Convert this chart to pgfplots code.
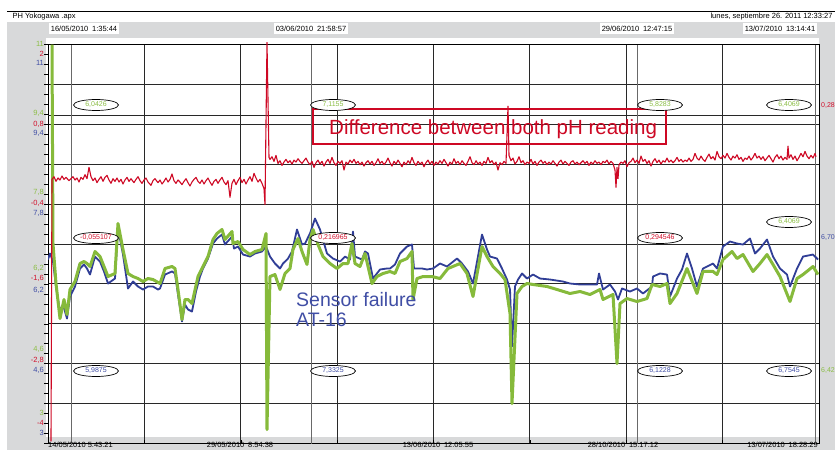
\documentclass[border=0pt]{standalone}
\usepackage{pgfplots}
\pgfplotsset{compat=1.18}
\usepackage{fontspec}
\setmainfont{Liberation Sans}
\definecolor{bgg}{RGB}{216,217,218}
\definecolor{gser}{RGB}{134,186,59}
\definecolor{bser}{RGB}{48,62,150}
\definecolor{rser}{RGB}{206,8,36}
\definecolor{glab}{RGB}{140,190,70}
\definecolor{blab}{RGB}{64,78,165}
\definecolor{rlab}{RGB}{210,16,44}
\definecolor{gridc}{RGB}{40,40,40}
\definecolor{curc}{RGB}{105,105,105}
\newcommand{\sm}{\fontsize{7.5}{9}\selectfont}
\tikzset{ell/.style={draw=black,line width=0.7pt,fill=white,ellipse,minimum width=45pt,minimum height=11pt,inner sep=0pt,font=\fontsize{7}{8}\selectfont},
 datebox/.style={fill=white,inner sep=1.5pt,minimum height=11pt,font=\sm}}
\usetikzlibrary{shapes.geometric}
\begin{document}
\begin{tikzpicture}[x=1pt,y=1pt]
\useasboundingbox (0,0) rectangle (835,450);
\clip (0,0) rectangle (835,450);
\fill[white] (0,0) rectangle (835,450);
\fill[bgg] (7,0) rectangle (835,428);
\draw[black,line width=0.8pt] (7,439) -- (835,439);
\node[anchor=base west,font=\sm] at (9,431) {PH Yokogawa .apx};
\node[anchor=base east,font=\sm] at (836,431) {lunes, septiembre 26. 2011 12:33:27};
\fill[white] (46,13) rectangle (819,412);
\begin{axis}[at={(48,13)},anchor=south west,scale only axis,width=771pt,height=399pt,
 xmin=0,xmax=771,ymin=3,ymax=11,
 xtick={0,96.4,192.8,289.1,385.5,481.9,578.3,674.6,771},
 ytick={3,3.8,4.6,5.4,6.2,7,7.8,8.6,9.4,10.2,11},
 minor x tick num=3, minor y tick num=3,
 xticklabels={}, yticklabels={},
 xtick pos=bottom, ytick pos=left, xtick align=inside, ytick align=outside,
 major tick length=4pt, minor tick length=4pt,
 tick style={black,line width=0.6pt},
 grid=major, major grid style={draw=gridc,line width=0.9pt},
 axis line style={black,line width=0.9pt},
 clip=true]
\draw[gridc,line width=0.9pt] (axis cs:0,9.576) -- (axis cs:771,9.576);
\draw[curc,line width=1pt] (axis cs:23,3) -- (axis cs:23,11);
\draw[curc,line width=1pt] (axis cs:263,3) -- (axis cs:263,11);
\draw[curc,line width=1pt] (axis cs:589,3) -- (axis cs:589,11);
\draw[curc,line width=1pt] (axis cs:767,3) -- (axis cs:767,11);
% blue series
\addplot[bser,line width=1.8pt,line join=round,mark=none] coordinates {
(0,6.689)(2,6.810)(5,6.649)(8,6.148)(12,5.647)(15,5.787)(19,5.506)(22,5.947)(27,6.148)(32,6.509)(36,6.589)(39,6.509)(42,6.388)(47,6.749)(52,6.649)(56,6.449)(60,6.208)(67,6.308)(70,7.311)(75,6.789)(80,6.108)(85,6.248)(90,6.148)(95,6.088)(100,6.148)(105,6.148)(110,6.088)(112,6.108)(117,6.388)(124,6.449)(127,6.409)(130,5.987)(134,5.446)(137,5.787)(140,5.687)(144,5.647)(148,6.048)(152,6.348)(155,6.509)(160,6.709)(165,7.010)(169,7.110)(174,7.190)(177,6.990)(184,7.150)(186,6.910)(190,6.950)(195,6.789)(202,6.749)(207,6.810)(214,6.850)(218,6.950)(222,6.749)(227,6.609)(232,6.509)(235,6.609)(240,6.709)(244,6.850)(249,7.291)(254,6.990)(257,7.010)(262,7.211)(267,7.511)(272,7.291)(279,6.810)(285,6.709)(292,6.649)(297,6.749)(302,6.689)(305,7.251)(307,6.749)(314,6.689)(317,6.850)(320,6.810)(325,6.308)(332,6.489)(339,6.509)(342,6.509)(347,6.589)(352,6.810)(359,6.950)(364,6.990)(366,6.509)(369,6.509)(374,6.509)(379,6.489)(385,6.509)(392,6.609)(399,6.549)(409,6.709)(414,6.609)(420,6.449)(425,6.208)(434,7.190)(439,6.890)(442,6.749)(449,6.709)(454,6.509)(459,6.288)(462,6.088)(464,4.945)(467,6.148)(470,6.288)(474,6.409)(479,6.308)(485,6.388)(492,6.308)(502,6.288)(515,6.248)(522,6.208)(532,6.188)(542,6.188)(549,6.188)(551,6.409)(555,6.088)(562,6.188)(567,6.048)(570,5.887)(574,6.108)(582,6.048)(589,6.108)(595,6.008)(604,6.148)(605,6.348)(612,6.409)(619,6.388)(622,5.947)(629,6.308)(634,6.489)(639,6.810)(644,6.509)(649,6.148)(655,6.509)(665,6.609)(669,6.509)(675,6.950)(682,7.050)(689,7.010)(695,6.990)(702,7.110)(707,6.810)(712,6.910)(719,7.090)(725,6.749)(732,6.509)(739,6.388)(742,6.148)(749,6.509)(755,6.749)(765,6.789)(770,6.689)};
% green series
\addplot[gser,line width=3pt,line join=round,mark=none] coordinates {
(4,11.0)(5,7.010)(8,6.208)(12,5.506)(16,5.887)(19,5.586)(22,6.088)(27,6.248)(32,6.609)(36,6.649)(39,6.609)(42,6.549)(47,6.850)(52,6.749)(56,6.549)(60,6.348)(67,6.409)(70,7.411)(75,6.890)(80,6.409)(85,6.348)(90,6.308)(95,6.248)(100,6.308)(105,6.288)(112,6.208)(117,6.509)(124,6.549)(127,6.509)(130,6.088)(134,5.486)(137,5.887)(140,5.887)(144,5.807)(150,6.348)(155,6.549)(160,6.749)(165,7.090)(169,7.211)(174,7.291)(177,7.090)(184,7.251)(185,7.010)(190,7.050)(195,6.890)(202,6.789)(207,6.850)(214,6.890)(218,7.211)(219,3.281)(222,6.348)(227,6.388)(232,6.088)(237,6.409)(242,6.509)(245,6.890)(250,7.110)(254,6.850)(259,6.589)(262,7.090)(265,7.291)(270,6.990)(275,6.749)(282,6.609)(289,6.509)(295,6.609)(300,6.609)(304,7.010)(307,6.609)(312,6.549)(317,6.810)(324,6.208)(329,6.348)(335,6.409)(342,6.449)(347,6.409)(352,6.649)(359,6.709)(364,6.850)(365,5.887)(369,6.308)(375,6.348)(384,6.348)(392,6.308)(400,6.509)(412,6.609)(419,6.409)(425,5.947)(434,6.950)(439,6.749)(445,6.549)(452,6.409)(457,6.288)(462,5.607)(464,3.802)(469,6.008)(474,6.148)(479,6.208)(485,6.188)(499,6.148)(509,6.088)(522,6.008)(532,6.048)(542,5.987)(552,6.088)(555,5.887)(565,5.987)(569,4.604)(572,5.807)(579,5.907)(589,5.847)(599,5.907)(604,6.188)(612,6.148)(619,6.208)(622,5.807)(629,6.008)(639,6.509)(649,6.008)(655,6.449)(665,6.449)(669,6.388)(675,6.689)(684,6.850)(689,6.709)(695,6.789)(705,6.449)(712,6.609)(719,6.789)(725,6.589)(732,6.348)(742,5.847)(749,6.308)(755,6.388)(765,6.549)(770,6.388)};
\end{axis}
\begin{axis}[at={(48,13)},anchor=south west,scale only axis,width=771pt,height=399pt,
 xmin=0,xmax=771,ymin=-4,ymax=2,hide axis,clip=true]
\addplot[rser,line width=1.1pt,line join=round,mark=none] coordinates {
(3,-4.0)(4,-0.06)(6,-0.02)(8,-0.09)(10,-0.04)(12,-0.07)(14,-0.01)(16,-0.06)(18,-0.03)(21,-0.08)(23,-0.05)(25,-0.02)(27,-0.07)(29,-0.04)(31,-0.10)(33,-0.03)(35,-0.06)(37,0.01)(39,-0.05)(41,0.12)(43,-0.02)(45,-0.08)(47,-0.04)(49,-0.11)(51,-0.06)(53,-0.02)(55,-0.09)(57,-0.03)(59,0.00)(61,-0.07)(63,-0.12)(65,-0.05)(67,-0.09)(69,-0.04)(71,-0.10)(73,-0.06)(75,-0.13)(77,-0.07)(79,-0.03)(81,-0.09)(83,-0.05)(86,-0.11)(88,-0.06)(90,-0.02)(92,-0.08)(94,-0.12)(96,-0.07)(98,-0.04)(100,-0.10)(103,-0.15)(105,-0.08)(107,-0.05)(110,-0.11)(112,-0.07)(114,-0.13)(116,-0.09)(118,-0.04)(120,-0.10)(122,-0.06)(124,0.02)(126,-0.08)(128,-0.12)(130,-0.07)(132,-0.10)(134,-0.14)(136,-0.09)(138,-0.05)(140,-0.11)(142,-0.16)(144,-0.10)(146,-0.06)(148,-0.03)(150,-0.09)(152,-0.12)(154,-0.07)(156,-0.13)(158,-0.08)(160,-0.04)(162,-0.10)(164,-0.15)(166,-0.09)(168,-0.06)(170,-0.12)(172,-0.07)(174,-0.03)(176,-0.10)(178,-0.14)(180,-0.08)(182,-0.33)(184,-0.12)(186,-0.06)(188,-0.14)(190,-0.08)(192,-0.03)(194,-0.11)(196,-0.06)(198,-0.13)(200,-0.07)(202,-0.02)(204,-0.09)(206,0.03)(208,-0.04)(210,-0.10)(212,-0.06)(214,-0.12)(216,-0.20)(217,-0.44)(219,2.0)(221,0.27)
(222,0.24)(224,0.28)(226,0.21)(228,0.30)(230,0.18)(232,0.22)(234,0.15)(236,0.20)(238,0.24)(240,0.19)(242,0.22)(244,0.17)(246,0.23)(248,0.20)(250,0.25)(252,0.21)(254,0.18)(256,0.22)(258,0.26)(260,0.20)(262,0.16)(264,0.21)(266,0.12)(268,0.19)(270,0.23)(272,0.17)(274,0.21)(276,0.14)(278,0.20)(280,0.24)(282,0.18)(284,0.27)(286,0.19)(288,0.15)(290,0.21)(292,0.18)(294,0.22)(296,0.08)(298,0.20)(300,0.17)(302,0.23)(304,0.19)(306,0.24)(308,0.18)(310,0.21)(312,0.16)(314,0.20)(316,0.14)(318,0.19)(320,0.22)(322,0.17)(324,0.21)(326,0.15)(328,0.19)(330,0.25)(332,0.18)(334,0.21)(336,0.16)(338,0.20)(340,0.26)(342,0.19)(344,0.14)(346,0.21)(348,0.17)(350,0.23)(352,0.18)(354,0.13)(356,0.20)(358,0.16)(360,0.22)(362,0.18)(364,0.27)(366,0.19)(368,0.15)(370,0.21)(372,0.17)(374,0.20)(376,0.13)(378,0.19)(380,0.23)(382,0.17)(384,0.21)(386,0.15)(388,0.20)(390,0.17)(392,0.22)(394,0.18)(396,0.24)(398,0.19)(400,0.14)(402,0.20)(404,0.17)(406,0.25)(408,0.18)(410,0.21)(412,0.16)(414,0.22)(416,0.18)(418,0.15)(420,0.21)(422,0.28)(424,0.19)(426,0.16)(428,0.22)(430,0.17)(432,0.20)(434,0.15)(436,0.21)(438,0.18)(440,0.27)(442,0.19)(444,0.22)(446,0.16)(448,0.20)(450,0.08)(452,0.19)(454,0.16)(456,0.21)(458,0.18)(460,1.04)(461,0.30)(463,0.22)(465,0.26)(467,0.17)(469,0.21)(471,0.28)(473,0.19)(475,0.22)(477,0.16)(479,0.20)(481,0.18)(483,0.24)(485,0.17)(487,0.21)(489,0.15)(491,0.20)(493,0.23)(495,0.18)(497,0.21)(499,0.16)(501,0.20)(503,0.17)(505,0.22)(507,0.18)(509,0.14)(511,0.20)(513,0.23)(515,0.17)(517,0.21)(519,0.18)(521,0.15)(523,0.20)(525,0.22)(527,0.17)(529,0.20)(531,0.16)(533,0.19)(535,0.22)(537,0.18)(539,0.21)(541,0.15)(543,0.20)(545,0.17)(547,0.22)(549,0.18)(551,0.20)(553,0.16)(555,0.21)(557,0.19)(559,0.23)(561,0.17)(563,0.21)(565,0.18)(567,0.08)(568,-0.18)(569,0.12)(570,-0.05)(571,0.16)(573,0.20)(575,0.18)(577,0.22)(579,0.13)(581,0.19)(583,0.21)(585,0.26)(587,0.19)(589,0.23)(591,0.18)(593,0.29)(595,0.21)(597,0.24)(599,0.18)(601,0.22)(603,0.14)(605,0.21)(607,0.25)(609,0.19)(611,0.23)(613,0.17)(615,0.22)(617,0.20)(619,0.26)(621,0.20)(623,0.23)(625,0.19)(627,0.22)(629,0.27)(631,0.21)(633,0.24)(635,0.20)(637,0.23)(639,0.21)(641,0.26)(643,0.21)(645,0.24)(647,0.33)(649,0.26)(651,0.23)(653,0.29)(655,0.24)(657,0.21)(659,0.27)(661,0.32)(663,0.25)(665,0.28)(667,0.23)(669,0.36)(671,0.28)(673,0.25)(675,0.30)(677,0.26)(679,0.33)(681,0.27)(683,0.23)(685,0.29)(687,0.26)(689,0.31)(691,0.24)(693,0.27)(695,0.21)(697,0.26)(699,0.24)(701,0.29)(703,0.23)(705,0.27)(707,0.33)(709,0.26)(711,0.29)(713,0.24)(715,0.28)(717,0.22)(719,0.26)(721,0.30)(723,0.25)(725,0.20)(727,0.27)(729,0.31)(731,0.25)(733,0.29)(735,0.23)(737,0.27)(739,0.24)(740,0.44)(741,0.26)(743,0.31)(745,0.24)(747,0.29)(749,0.22)(751,0.27)(753,0.33)(755,0.28)(757,0.36)(759,0.29)(761,0.25)(763,0.30)(765,0.26)(767,0.33)(768,0.28)};
\end{axis}
% annotation box
\draw[rser,line width=1.3pt] (313,341) rectangle (666,306);
\node[anchor=base west,text=rser,inner sep=0pt,font=\fontsize{20.5}{24}\selectfont] at (329,315) {Difference between both pH reading};
\node[anchor=base west,text=blab,inner sep=0pt,font=\fontsize{19.5}{22}\selectfont] at (296,143) {Sensor failure};
\node[anchor=base west,text=blab,inner sep=0pt,font=\fontsize{19.5}{22}\selectfont] at (296,123) {AT-16};
% cursor value ellipses
\node[ell,text=glab] at (96,345) {6,0426};
\node[ell,text=rlab] at (96,212) {-0,055107};
\node[ell,text=blab] at (96,79) {5,9875};
\node[ell,text=glab] at (333,345) {7,1155};
\node[ell,text=rlab] at (333,212) {0,216965};
\node[ell,text=blab] at (333,79) {7,3325};
\node[ell,text=glab] at (660,345) {5,8283};
\node[ell,text=rlab] at (660,212) {0,294546};
\node[ell,text=blab] at (660,79) {6,1228};
\node[ell,text=glab] at (789,345) {6,4069};
\node[ell,text=glab] at (789,228) {6,4069};
\node[ell,text=blab] at (789,79) {6,7545};
% right last values
\node[anchor=west,text=rlab,font=\fontsize{7}{8}\selectfont,inner sep=0pt] at (821,344) {0,28};
\node[anchor=west,text=blab,font=\fontsize{7}{8}\selectfont,inner sep=0pt] at (821,212) {6,70};
\node[anchor=west,text=glab,font=\fontsize{7}{8}\selectfont,inner sep=0pt] at (821,79) {6,42};
% top cursor date boxes
\node[datebox] at (84,421) {16/05/2010\enspace 1:35:44};
\node[datebox] at (311,421) {03/06/2010\enspace 21:58:57};
\node[datebox] at (637,421) {29/06/2010\enspace 12:47:15};
\node[datebox] at (780,421) {13/07/2010\enspace 13:14:41};
% bottom labels
\node[anchor=west,font=\sm,inner sep=0pt] at (48,5.5) {14/05/2010 5:43:21};
\node[font=\sm,inner sep=0pt] at (240,5.5) {29/05/2010\enspace 8:54:38};
\node[font=\sm,inner sep=0pt] at (438,5.5) {13/06/2010\enspace 12:05:55};
\node[font=\sm,inner sep=0pt] at (623,5.5) {28/10/2010\enspace 15:17:12};
\node[anchor=east,font=\sm,inner sep=0pt] at (818,5.5) {13/07/2010\enspace 18:28:29};
% left scale labels
\begin{scope}[every node/.style={anchor=east,font=\sm,inner sep=0pt}]
\node[text=glab] at (44,406) {11}; \node[text=rlab] at (44,396) {2}; \node[text=blab] at (44,387) {11};
\node[text=glab] at (44,337) {9,4}; \node[text=rlab] at (44,326) {0,8}; \node[text=blab] at (44,317) {9,4};
\node[text=glab] at (44,258) {7,8}; \node[text=rlab] at (44,247) {-0,4}; \node[text=blab] at (44,237) {7,8};
\node[text=glab] at (44,182) {6,2}; \node[text=rlab] at (44,172) {-1,6}; \node[text=blab] at (44,160) {6,2};
\node[text=glab] at (44,101) {4,6}; \node[text=rlab] at (44,90) {-2,8}; \node[text=blab] at (44,80) {4,6};
\node[text=glab] at (44,37) {3}; \node[text=rlab] at (44,27) {-4}; \node[text=blab] at (44,17) {3};
\end{scope}
\end{tikzpicture}
\end{document}
